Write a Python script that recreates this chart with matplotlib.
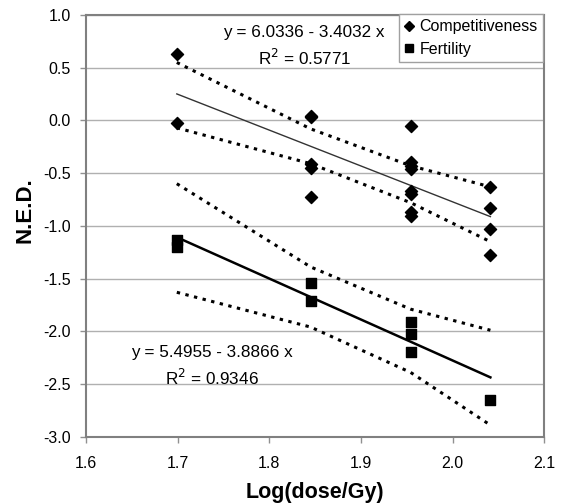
import numpy as np
import matplotlib
matplotlib.use("Agg")
import matplotlib.pyplot as plt
from matplotlib.lines import Line2D

plt.rcParams['font.family'] = ['Liberation Sans', 'DejaVu Sans']

# log10 of dose (50, 70, 90, 110 Gy)
dose_x = [1.699, 1.845, 1.954, 2.041]

# competitiveness points (N.E.D.)
comp_x = [1.699, 1.699,
          1.845, 1.845, 1.845, 1.845, 1.845,
          1.954, 1.954, 1.954, 1.954, 1.954, 1.954, 1.954, 1.954,
          2.041, 2.041, 2.041, 2.041]
comp_y = [0.63, -0.02,
          0.045, 0.03, -0.41, -0.45, -0.73,
          -0.05, -0.39, -0.43, -0.46, -0.67, -0.70, -0.87, -0.91,
          -0.63, -0.83, -1.03, -1.28]

# fertility points
fert_x = [1.699, 1.699, 1.845, 1.845, 1.954, 1.954, 1.954, 2.041]
fert_y = [-1.13, -1.20, -1.54, -1.71, -1.91, -2.03, -2.20, -2.65]

# fits
comp_a, comp_b = 6.0336, -3.4032
fert_a, fert_b = 5.4955, -3.8866

# dotted bands at dose_x
comp_upper = [0.55, -0.08, -0.43, -0.63]
comp_lower = [-0.07, -0.41, -0.78, -1.15]
fert_upper = [-0.60, -1.39, -1.79, -1.99]
fert_lower = [-1.63, -1.96, -2.39, -2.89]

fig = plt.figure(figsize=(5.66, 5.04), dpi=100)
ax = fig.add_axes([0.152, 0.1335, 0.810, 0.8367])

xd = np.array(dose_x)
dots = (0, (1.1, 1.8))
ax.plot(xd, comp_a + comp_b * xd, color='#333333', lw=1.0, zorder=3)
ax.plot(xd, fert_a + fert_b * xd, color='black', lw=1.8, zorder=3)
for band in [comp_upper, comp_lower, fert_upper, fert_lower]:
    ax.plot(dose_x, band, color='black', lw=2.2, linestyle=dots,
            dash_capstyle='butt', zorder=3)

ax.scatter(comp_x, comp_y, marker='D', s=38, color='black', zorder=4)
ax.scatter(fert_x, fert_y, marker='s', s=48, color='black', zorder=4)

ax.text(1.838, 0.835, 'y = 6.0336 - 3.4032 x', ha='center', va='center', fontsize=12.3)
ax.text(1.838, 0.594, 'R$^2$ = 0.5771', ha='center', va='center', fontsize=12.3)
ax.text(1.737, -2.20, 'y = 5.4955 - 3.8866 x', ha='center', va='center', fontsize=12.3)
ax.text(1.737, -2.44, 'R$^2$ = 0.9346', ha='center', va='center', fontsize=12.3)

ax.set_xlim(1.6, 2.1)
ax.set_ylim(-3.0, 1.0)
ax.set_xticks(np.arange(1.6, 2.11, 0.1))
ax.set_yticks(np.arange(-3.0, 1.01, 0.5))
ax.xaxis.set_major_formatter(matplotlib.ticker.FormatStrFormatter('%.1f'))
ax.yaxis.set_major_formatter(matplotlib.ticker.FormatStrFormatter('%.1f'))
ax.yaxis.grid(True, color='#b0b0b0', lw=1.0)
ax.set_axisbelow(True)
ax.tick_params(direction='out', length=4, width=1, color='#909090',
               labelsize=11.5)
ax.tick_params(axis='x', pad=10)
ax.tick_params(axis='y', pad=7)
for s in ax.spines.values():
    s.set_color('#808080')
    s.set_linewidth(1.5)

ax.set_xlabel('Log(dose/Gy)', fontsize=15.5, fontweight='bold', labelpad=8)
ax.set_ylabel('N.E.D.', fontsize=16, fontweight='bold')
ax.yaxis.set_label_coords(-0.111, 0.538)

handles = [Line2D([], [], marker='D', color='black', ls='none', markersize=5),
           Line2D([], [], marker='s', color='black', ls='none', markersize=5.5)]
leg = ax.legend(handles, ['Competitiveness', 'Fertility'], loc='upper right',
                bbox_to_anchor=(0.997, 1.003), borderaxespad=0, fancybox=False,
                fontsize=11.5, handlelength=0.5, handletextpad=0.4,
                borderpad=0.35, labelspacing=0.45, framealpha=1)
leg.get_frame().set_edgecolor('#a0a0a0')
leg.get_frame().set_linewidth(1.0)
leg.set_zorder(5)

fig.savefig('out.png', dpi=100)
